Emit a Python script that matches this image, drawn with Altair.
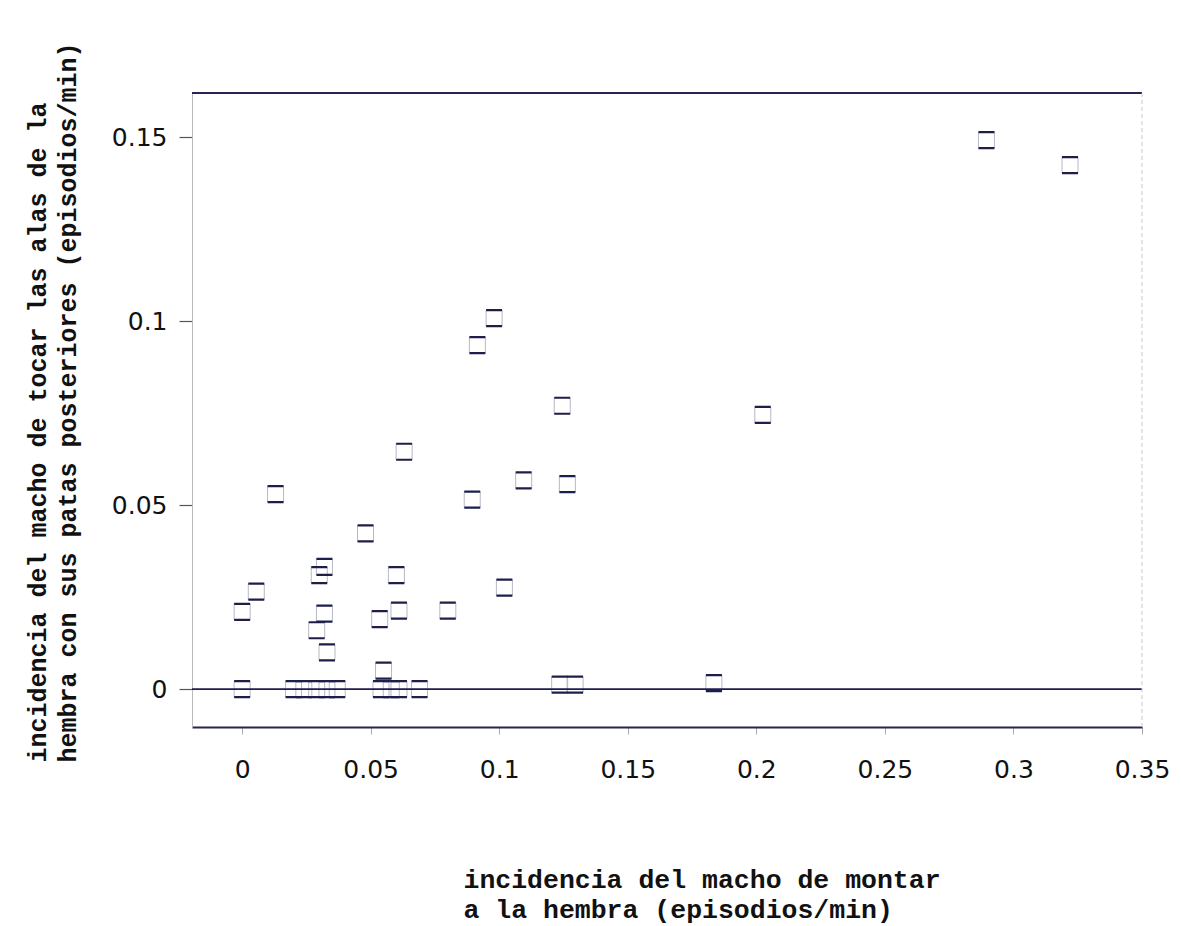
import altair as alt
import pandas as pd

# incidencia del macho de montar a la hembra (episodios/min)
montar = [0.000, 0.0055, 0.013, 0.000, 0.020, 0.024, 0.029, 0.033, 0.037,
          0.032, 0.030, 0.032, 0.029, 0.033, 0.048, 0.0535, 0.055, 0.054,
          0.058, 0.061, 0.069, 0.060, 0.061, 0.063, 0.080, 0.0895, 0.0915,
          0.098, 0.102, 0.1095, 0.1245, 0.1265, 0.1235, 0.1295, 0.1835,
          0.2025, 0.2895, 0.3220]
# incidencia del macho de tocar las alas de la hembra (episodios/min)
tocar = [0.021, 0.0265, 0.053, 0.000, 0.000, 0.000, 0.000, 0.000, 0.000,
         0.0332, 0.031, 0.0205, 0.016, 0.010, 0.0423, 0.019, 0.005, 0.000,
         0.000, 0.000, 0.000, 0.031, 0.0213, 0.0645, 0.0213, 0.0515, 0.0935,
         0.1008, 0.0276, 0.0567, 0.0770, 0.0557, 0.0012, 0.0012, 0.0016,
         0.0745, 0.1492, 0.1424]

x_ticks = [0, 0.05, 0.1, 0.15, 0.2, 0.25, 0.3, 0.35]
y_ticks = [0, 0.05, 0.1, 0.15]

x_title = ["incidencia del macho de montar", "a la hembra (episodios/min)"]
y_title = ["incidencia del macho de tocar las alas de la",
           "hembra con sus patas posteriores (episodios/min)"]

df = pd.DataFrame({"montar": montar, "tocar": tocar})
zero_df = pd.DataFrame({"v": [0]})

W, H = 950, 634
x_scale = alt.Scale(domain=[-0.0195, 0.35], nice=False, zero=False)
y_scale = alt.Scale(domain=[-0.0103, 0.162], nice=False, zero=False)

x_axis = alt.Axis(
    values=x_ticks, format="~g", grid=False,
    labelFont="DejaVu Sans", labelFontSize=25, labelColor="#111111",
    labelPadding=23, labelFlush=False,
    tickSize=7, tickColor="#aaaaaa", tickWidth=1,
    domainColor="#25254f", domainWidth=1.8,
    title=x_title, titleFont="Liberation Mono", titleFontSize=26.5,
    titleFontWeight="bold", titleColor="#111111",
    titleAlign="left", titleBaseline="top", titleLineHeight=30,
    titleX=271, titleY=139,
)
y_axis = alt.Axis(
    values=y_ticks, format="~g", grid=False,
    labelFont="DejaVu Sans", labelFontSize=25, labelColor="#111111",
    labelPadding=12,
    tickSize=13, tickColor="#555555", tickWidth=1.2,
    domainColor="#bbbbbb", domainWidth=1,
    title=y_title, titleFont="Liberation Mono", titleFontSize=25,
    titleFontWeight="bold", titleColor="#111111",
    titleAngle=270, titleAlign="left", titleBaseline="top",
    titleLineHeight=30, titleX=-167, titleY=669,
)

enc = dict(
    x=alt.X("montar:Q", scale=x_scale, axis=x_axis),
    y=alt.Y("tocar:Q", scale=y_scale, axis=y_axis),
)

sides = alt.Chart(df).mark_point(
    shape="M-1,-1V1M1,-1V1", size=256, filled=False,
    stroke="#b8b8c8", strokeWidth=1, opacity=1,
).encode(**enc)

tops = alt.Chart(df).mark_point(
    shape="M-1,-1H1M-1,1H1", size=256, filled=False,
    stroke="#1e1e4a", strokeWidth=2.2, opacity=1,
).encode(**enc)

zero_rule = alt.Chart(zero_df).mark_rule(color="#1e1e50", strokeWidth=1.6).encode(
    y=alt.Y("v:Q", scale=y_scale), x=alt.value(0), x2=alt.value(W)
)
top_rule = alt.Chart(zero_df).mark_rule(color="#25254f", strokeWidth=1.8).encode(
    y=alt.value(0), x=alt.value(0), x2=alt.value(W)
)
right_rule = alt.Chart(zero_df).mark_rule(
    color="#c8c8c8", strokeWidth=1, strokeDash=[4, 3]
).encode(x=alt.value(W), y=alt.value(0), y2=alt.value(H))

chart = alt.layer(sides, tops, zero_rule, top_rule, right_rule).properties(
    width=W, height=H,
    autosize=alt.AutoSizeParams(type="none"),
    padding={"left": 192, "top": 93, "right": 39, "bottom": 199},
    background="white",
).configure_view(stroke=None)

chart.save("out.html", embed_options={"renderer": "svg", "actions": False})
